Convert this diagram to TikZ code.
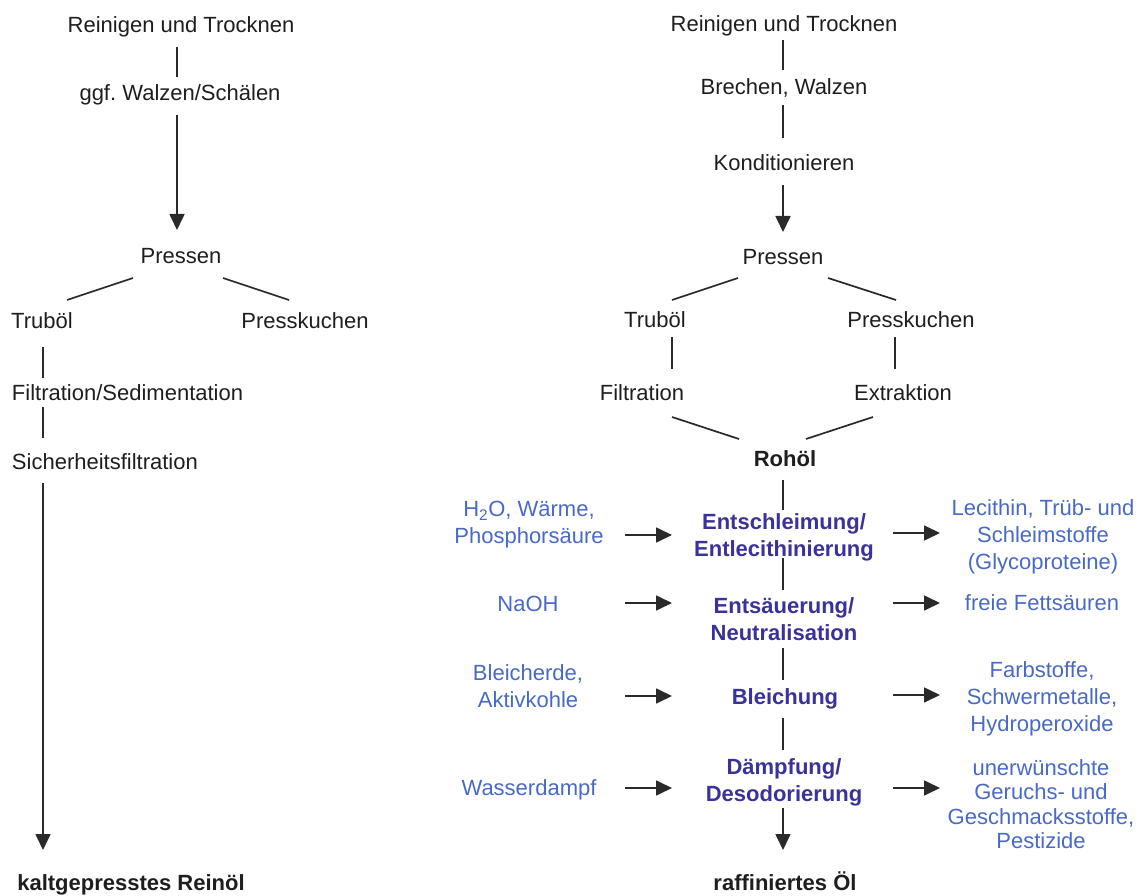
\documentclass[tikz,border=0pt]{standalone}
\usepackage{fontspec}
\setmainfont{Liberation Sans}
\usetikzlibrary{arrows.meta,calc}
\frenchspacing

\definecolor{ink}{HTML}{1E1E1E}
\definecolor{rule}{HTML}{2A2A2A}
\definecolor{sideblue}{RGB}{72,105,200}
\definecolor{stageblue}{RGB}{58,50,155}

\tikzset{
  every node/.style={inner sep=0pt, outer sep=0pt, text=ink,
    font=\fontsize{22}{27}\selectfont},
  one/.style={anchor=base},
  onew/.style={anchor=base west},
  multi/.style={align=center},
  tight/.style={font=\fontsize{22}{24.5}\selectfont},
  side/.style={text=sideblue},
  stage/.style={text=stageblue, font=\fontsize{22}{27}\selectfont\bfseries},
  result/.style={font=\fontsize{22}{27}\selectfont\bfseries},
  link/.style={draw=rule, line width=1.7pt},
  flow/.style={link, -{Triangle[width=15pt,length=16pt]}},
}

\begin{document}
\begin{tikzpicture}[x=1pt, y=-1pt]
\useasboundingbox (0,0) rectangle (1141,896);

% ---------- cold pressing ----------
\node[one] (L1) at (181,33) {Reinigen und Trocknen};
\node[one] (L2) at (180,101) {ggf. Walzen/Schälen};
\node[one] (L3) at (181,264) {Pressen};
\node[one] (L4) at (42,328) {Truböl};
\node[one] (L5) at (305,328) {Presskuchen};
\node[onew] (L6) at (12,400) {Filtration/Sedimentation};
\node[onew] (L7) at (12,469) {Sicherheitsfiltration};
\node[one, result] (L8) at (131,890) {kaltgepresstes Reinöl};

\draw[link] ($(L1.base)+(-4,14)$) -- ($(L2.base)+(-3,-24)$);
\draw[flow] ($(L2.base)+(-3,14)$) -- ($(L3.base)+(-4,-34)$);
\draw[link] ($(L3.base)+(-48,14)$) -- ($(L4.base)+(25,-28)$);
\draw[link] ($(L3.base)+(42,14)$) -- ($(L5.base)+(-16,-28)$);
\draw[link] ($(L4.base)+(1,19)$) -- ($(L6.base west)+(31,-22)$);
\draw[link] ($(L6.base west)+(31,7)$) -- ($(L7.base west)+(31,-31)$);
\draw[flow] ($(L7.base west)+(31,14)$) -- ($(L8.base)+(-88,-40)$);

% ---------- refining ----------
\node[one] (R1) at (784,32) {Reinigen und Trocknen};
\node[one] (R2) at (784,95) {Brechen, Walzen};
\node[one] (R3) at (784,171) {Konditionieren};
\node[one] (R4) at (783,265) {Pressen};
\node[one] (R5) at (655,327) {Truböl};
\node[one] (R6) at (911,327) {Presskuchen};
\node[one] (R7) at (642,400) {Filtration};
\node[one] (R8) at (903,400) {Extraktion};
\node[one, result] (R9) at (785,466) {Rohöl};
\node[multi, stage] (B1) at (784,537) {Entschleimung/\\Entlecithinierung};
\node[multi, stage] (B2) at (784,619) {Entsäuerung/\\Neutralisation};
\node[one, stage] (B3) at (785,704) {Bleichung};
\node[multi, stage] (B4) at (784,782) {Dämpfung/\\Desodorierung};
\node[one, result] (R10) at (785,890) {raffiniertes Öl};

\draw[link] ($(R1.base)+(-1,8)$) -- ($(R2.base)+(-1,-25)$);
\draw[link] ($(R2.base)+(-1,10)$) -- ($(R3.base)+(-1,-33)$);
\draw[flow] ($(R3.base)+(-1,14)$) -- ($(R4.base)+(0,-33)$);
\draw[link] ($(R4.base)+(-45,13)$) -- ($(R5.base)+(17,-27)$);
\draw[link] ($(R4.base)+(45,13)$) -- ($(R6.base)+(-15,-27)$);
\draw[link] ($(R5.base)+(17,10)$) -- ($(R7.base)+(30,-31)$);
\draw[link] ($(R6.base)+(-16,10)$) -- ($(R8.base)+(-8,-31)$);
\draw[link] ($(R7.base)+(30,17)$) -- ($(R9.base)+(-46,-27)$);
\draw[link] ($(R8.base)+(-30,17)$) -- ($(R9.base)+(21,-27)$);
\draw[link] ($(R9.base)+(-2,14)$) -- ($(B1.center)+(-1,-27)$);
\draw[link] ($(B1.center)+(-1,21)$) -- ($(B2.center)+(-1,-29)$);
\draw[link] ($(B2.center)+(-1,29)$) -- ($(B3.base)+(-2,-24)$);
\draw[link] ($(B3.base)+(-2,14)$) -- ($(B4.center)+(-1,-32)$);
\draw[flow] ($(B4.center)+(-1,26)$) -- ($(R10.base)+(-2,-40)$);

% ---------- inputs ----------
\node[multi, side] (I1) at (529,525) {H\textsubscript{2}O, Wärme,\\Phosphorsäure};
\node[one, side] (I2) at (528,611) {NaOH};
\node[multi, side] (I3) at (528,686) {Bleicherde,\\Aktivkohle};
\node[one, side] (I4) at (529,795) {Wasserdampf};

\draw[flow] ($(I1.center)+(96,10)$) -- ($(B1.center)+(-112,-2)$);
\draw[flow] ($(I2.base)+(97,-8)$) -- ($(B2.center)+(-112,-16)$);
\draw[flow] ($(I3.center)+(97,10)$) -- ($(B3.base)+(-113,-8)$);
\draw[flow] ($(I4.base)+(96,-7)$) -- ($(B4.center)+(-112,6)$);

% ---------- removed substances ----------
\node[multi, side] (O1) at (1043,537) {Lecithin, Trüb- und\\Schleimstoffe\\(Glycoproteine)};
\node[one, side] (O2) at (1042,610) {freie Fettsäuren};
\node[multi, side] (O3) at (1042,699) {Farbstoffe,\\Schwermetalle,\\Hydroperoxide};
\node[multi, side, tight] (O4) at (1041,804) {unerwünschte\\Geruchs- und\\Geschmacksstoffe,\\Pestizide};

\draw[flow] ($(B1.center)+(109,-4)$) -- ($(O1.center)+(-103,-4)$);
\draw[flow] ($(B2.center)+(109,-16)$) -- ($(O2.base)+(-102,-7)$);
\draw[flow] ($(B3.base)+(108,-9)$) -- ($(O3.center)+(-102,-4)$);
\draw[flow] ($(B4.center)+(109,6)$) -- ($(O4.center)+(-101,-16)$);
\end{tikzpicture}
\end{document}
